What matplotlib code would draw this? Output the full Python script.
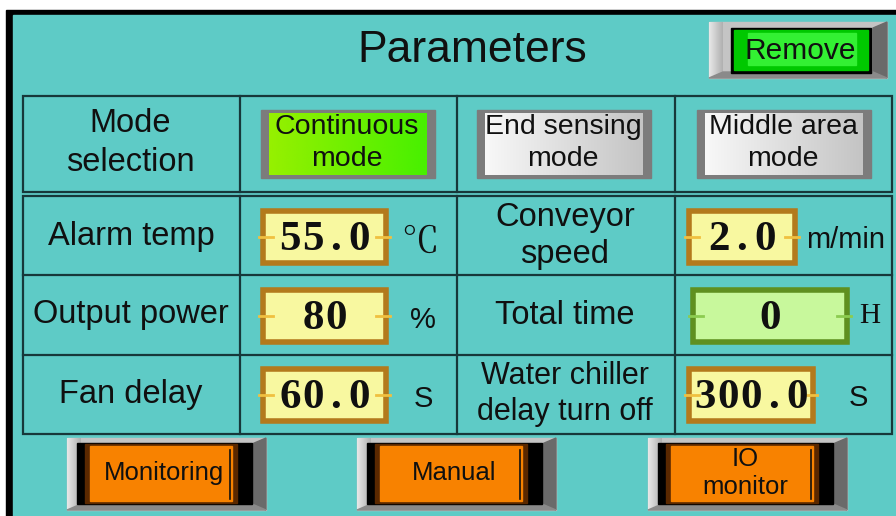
import numpy as np
import matplotlib.pyplot as plt
from matplotlib.patches import Rectangle, Polygon

plt.rcParams['font.family'] = ['Liberation Sans', 'DejaVu Sans']

W, H = 896, 516
teal = '#5ecbc6'
line_c = '#17383a'
ink = '#101010'

title = 'Parameters'
remove_label = 'Remove'
mode_labels = ['Continuous\nmode', 'End sensing\nmode', 'Middle area\nmode']
mode_active = [True, False, False]
left_labels = ['Alarm temp', 'Output power', 'Fan delay']
left_values = ['55.0', '80', '60.0']
left_units = ['℃', '%', 'S']
right_labels = ['Conveyor\nspeed', 'Total time', 'Water chiller\ndelay turn off']
right_values = ['2.0', '0', '300.0']
right_units = ['m/min', 'H', 'S']
nav_labels = ['Monitoring', 'Manual', 'IO\nmonitor']

fig = plt.figure(figsize=(W / 100, H / 100), dpi=100)
ax = fig.add_axes([0, 0, 1, 1])
ax.set_xlim(0, W)
ax.set_ylim(H, 0)
ax.axis('off')
fig.patch.set_facecolor('white')

# screen frame
ax.add_patch(Rectangle((6, 10), W, H, color='black', zorder=0))
ax.add_patch(Rectangle((13, 15), W, H, color=teal, zorder=0))


def grad(x0, y0, x1, y1, c0, c1, horizontal=True, z=2):
    c0 = np.array(plt.matplotlib.colors.to_rgb(c0))
    c1 = np.array(plt.matplotlib.colors.to_rgb(c1))
    t = np.linspace(0, 1, 64)
    img = c0[None, :] * (1 - t[:, None]) + c1[None, :] * t[:, None]
    img = img[None, :, :] if horizontal else img[:, None, :]
    ax.imshow(img, extent=[x0, x1, y1, y0], aspect='auto', zorder=z,
              interpolation='bilinear')


def bevel(x0, y0, x1, y1, d=6):
    ax.add_patch(Rectangle((x0, y0), x1 - x0, y1 - y0, color='#c4c4c4', zorder=1))
    grad(x0, y0, x0 + 14, y1, '#e8e8e8', '#b0b0b0', z=1.5)
    ax.add_patch(Polygon([(x1 - 14, y0 + d), (x1, y0), (x1, y1), (x1 - 14, y1 - d)],
                         color='#6a6a6a', zorder=1.6))
    ax.add_patch(Polygon([(x0, y1), (x1, y1), (x1 - 14, y1 - d), (x0 + 14, y1 - d)],
                         color='#8a8a8a', zorder=1.6))


ax.text(472, 51, title, fontsize=32, ha='center', va='center', color=ink)

# remove button
bevel(709, 22, 887, 78)
ax.add_patch(Rectangle((731, 28), 140, 45, color='black', zorder=3))
ax.add_patch(Rectangle((734, 30), 134, 40, color='#00c800', zorder=3))
ax.add_patch(Rectangle((748, 33), 108, 32, color='#33f033', zorder=3))
ax.text(800, 51, remove_label, fontsize=21.5, ha='center', va='center', color=ink, zorder=4)

# table grid
ax.add_patch(Rectangle((23, 96), 869, 96, fill=False, ec=line_c, lw=1.6, zorder=2))
ax.add_patch(Rectangle((23, 196), 869, 238, fill=False, ec=line_c, lw=1.6, zorder=2))
for xc in [240, 457, 675]:
    ax.plot([xc, xc], [96, 192], color=line_c, lw=1.6, zorder=2)
    ax.plot([xc, xc], [196, 434], color=line_c, lw=1.6, zorder=2)
for yr in [275, 355]:
    ax.plot([23, 892], [yr, yr], color=line_c, lw=1.6, zorder=2)

lab_fs = 23.5
ax.text(130, 143, 'Mode\nselection', fontsize=lab_fs, ha='center', va='center',
        linespacing=1.35, color=ink)

# mode buttons
mode_x = [261, 477, 697]
for x0, lab, act in zip(mode_x, mode_labels, mode_active):
    ax.add_patch(Rectangle((x0, 110), 174, 68, color='#7c7c7c', zorder=1))
    if act:
        grad(x0 + 8, 113, x0 + 166, 175, '#96f000', '#48f000')
    else:
        grad(x0 + 8, 113, x0 + 166, 175, '#f8f8f8', '#c4c4c4')
    ax.text(x0 + 86, 143, lab, fontsize=20.5, ha='center', va='center',
            linespacing=1.32, color=ink, zorder=4)

row_y = [237, 316, 395]


def value_box(x0, x1, yc, val, green=False):
    ec = '#5f9020' if green else '#b37a1c'
    fc = '#c8f89c' if green else '#f8f8a0'
    tick = '#8ccc50' if green else '#f0c040'
    ax.add_patch(Rectangle((x0 + 2, yc - 26), x1 - x0 - 4, 52, fc=fc, ec=ec, lw=4, zorder=3))
    ax.plot([x0 - 2, x0 + 12], [yc, yc], color=tick, lw=2, zorder=4)
    ax.plot([x1 - 12, x1 + 2], [yc, yc], color=tick, lw=2, zorder=4)
    cx = (x0 + x1) / 2
    n = len(val)
    for i, ch in enumerate(val):
        ax.text(cx + (i - (n - 1) / 2) * 23, yc + 3, ch, fontsize=31, ha='center',
                va='center', family='Liberation Serif', weight='bold', color=ink, zorder=5)


for yc, lab, val, unit in zip(row_y, left_labels, left_values, left_units):
    ax.text(131, yc - 1, lab, fontsize=lab_fs, ha='center', va='center', color=ink)
    value_box(261, 388, yc, val)
    if unit == '℃':
        ax.text(420, yc + 6, unit, fontsize=27, ha='center', va='center',
                family=['Noto Serif CJK SC', 'Noto Sans CJK SC', 'DejaVu Sans'], color=ink)
    else:
        ax.text(423, yc + 4, unit, fontsize=21, ha='center', va='center', color=ink)

right_box = [(687, 797), (691, 849), (687, 815)]
unit_x = [846, 870, 858]
for yc, lab, val, unit, (x0, x1), ux in zip(row_y, right_labels, right_values,
                                            right_units, right_box, unit_x):
    fs = 22 if lab.startswith('Water') else lab_fs
    ax.text(565, yc - 1, lab, fontsize=fs, ha='center', va='center',
            linespacing=1.25, color=ink)
    value_box(x0, x1, yc, val, green=(unit == 'H'))
    if unit == 'H':
        ax.text(ux, yc, unit, fontsize=21, ha='center', va='center',
                family='Liberation Serif', color=ink)
    else:
        ax.text(ux, yc + 3, unit, fontsize=21, ha='center', va='center', color=ink)

# navigation buttons
nav_x = [67, 357, 648]
for x0, lab in zip(nav_x, nav_labels):
    bevel(x0, 438, x0 + 199, 510)
    ax.add_patch(Rectangle((x0 + 10, 443), 175, 61, color='black', zorder=3))
    ax.add_patch(Rectangle((x0 + 18, 444), 152, 59, color='#5a2800', zorder=3))
    ax.add_patch(Rectangle((x0 + 23, 446), 142, 55, color='#f88200', zorder=3))
    ax.plot([x0 + 163, x0 + 163], [450, 499], color=ink, lw=1.2, zorder=4)
    ax.text(x0 + 97, 473, lab, fontsize=18.5, ha='center', va='center',
            linespacing=1.2, color=ink, zorder=5)

fig.savefig('out.png', dpi=100)
